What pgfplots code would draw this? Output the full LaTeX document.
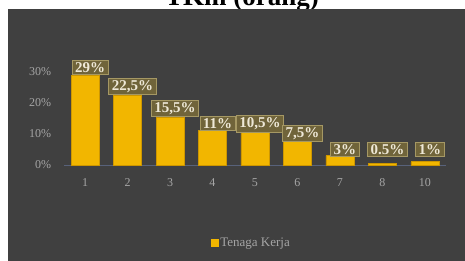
\documentclass[border=0pt]{standalone}
\usepackage{pgfplots}
\pgfplotsset{compat=1.18}
\usepackage{fontspec}
\setmainfont{Liberation Serif}
\definecolor{panel}{RGB}{64,64,64}
\definecolor{barc}{RGB}{242,182,0}
\definecolor{baredge}{RGB}{205,150,0}
\definecolor{boxfill}{RGB}{112,100,58}
\definecolor{boxdraw}{RGB}{165,152,100}
\definecolor{ticktext}{RGB}{165,165,165}
\definecolor{labtext}{RGB}{238,232,215}
\definecolor{axline}{RGB}{88,98,122}
\begin{document}
\begin{tikzpicture}
\clip (0,0) rectangle (465pt,261pt);
\fill[white] (0,0) rectangle (465pt,261pt);
\node[anchor=base, font=\fontsize{27}{29}\selectfont\bfseries, inner sep=0] at (242pt,255pt) {TKm (orang)};
\fill[panel] (8pt,0) rectangle (465pt,252pt);
\begin{axis}[
  at={(63.75pt,96pt)}, anchor=south west,
  scale only axis, width=382.5pt, height=108.5pt,
  xmin=-0.5, xmax=8.5, ymin=0, ymax=35,
  clip=false,
  axis x line*=bottom, axis y line*=left,
  x axis line style={draw=axline, line width=0.8pt, -},
  y axis line style={draw=none},
  major tick length=0pt,
  xtick={0,1,2,3,4,5,6,7,8},
  xticklabels={1,2,3,4,5,6,7,8,10},
  ytick={0,10,20,30},
  yticklabels={0\%,10\%,20\%,30\%},
  tick label style={font=\fontsize{12}{14}\selectfont, text=ticktext},
  xticklabel style={yshift=-10pt},
  yticklabel style={xshift=-9pt},
  legend style={at={(axis description cs:0.49,-0.72)}, anchor=center,
    draw=none, fill=none, text=ticktext, font=\fontsize{13}{15}\selectfont},
  legend image code/.code={\fill[barc] (0pt,-3.5pt) rectangle (7pt,3.5pt);},
]
\addplot[ybar, bar width=28pt, fill=barc, draw=baredge, line width=0.8pt]
  coordinates {(0,29) (1,22.5) (2,15.5) (3,11) (4,10.5) (5,7.5) (6,3) (7,0.5) (8,1)};
\addlegendentry{Tenaga Kerja}
\addplot[forget plot, only marks, mark=none,
  nodes near coords, point meta=explicit symbolic,
  nodes near coords style={anchor=south, xshift=5pt, fill=boxfill, draw=boxdraw,
    line width=0.8pt, text=labtext, font=\fontsize{15}{17}\selectfont\bfseries,
    inner xsep=3pt, inner ysep=2pt}]
  coordinates {(0,29)[29\%] (1,22.5)[22,5\%] (2,15.5)[15,5\%] (3,11)[11\%] (4,10.5)[10,5\%]
    (5,7.5)[7,5\%] (6,2.6)[3\%] (7,2.6)[0.5\%] (8,2.6)[1\%]};
\end{axis}
\end{tikzpicture}
\end{document}
